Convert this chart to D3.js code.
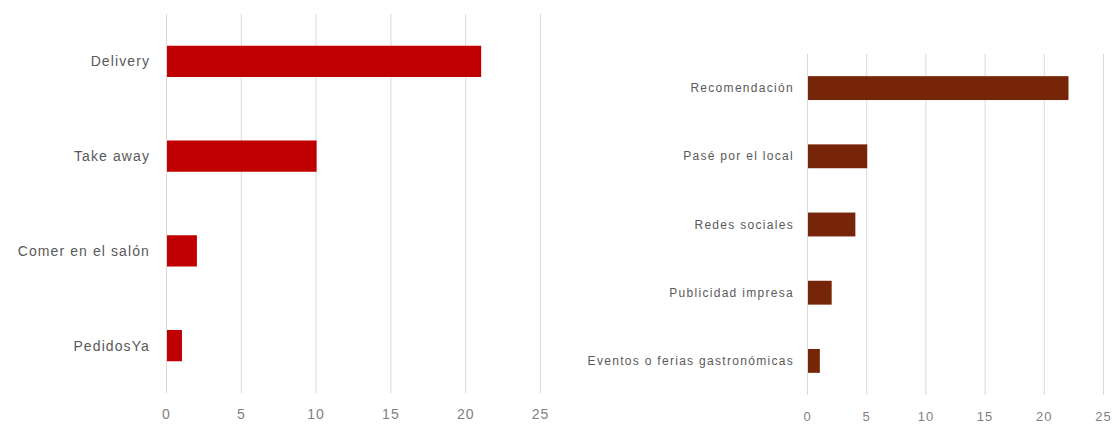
<!DOCTYPE html>
<html>
<head>
<meta charset="utf-8">
<script src="https://cdn.jsdelivr.net/npm/d3@7"></script>
<style>
  html, body { margin: 0; padding: 0; background: #ffffff; }
  svg { display: block; font-family: "Liberation Sans", Arial, sans-serif; }
  .cat text { fill: #595959; }
  .tick text { fill: #7f7f7f; }
</style>
</head>
<body>
<svg id="chart" width="1112" height="425"></svg>
<script>
// Left panel: how customers order
const orderCategories = ["Delivery", "Take away", "Comer en el salón", "PedidosYa"];
const orderValues = [21, 10, 2, 1];

// Right panel: how customers found the place
const sourceCategories = [
  "Recomendación",
  "Pasé por el local",
  "Redes sociales",
  "Publicidad impresa",
  "Eventos o ferias gastronómicas"
];
const sourceValues = [22, 5, 4, 2, 1];

const xTicks = [0, 5, 10, 15, 20, 25];

const svg = d3.select("#chart");

function drawPanel(opts) {
  const { categories, values, x0, x1, y0, y1, color, padInner, labelGap,
          labelSize, labelSpacing, tickSize, tickY } = opts;

  const x = d3.scaleLinear().domain([0, 25]).range([x0, x1]);
  const y = d3.scaleBand()
    .domain(categories)
    .range([y0, y1])
    .paddingInner(padInner)
    .paddingOuter(padInner / 2);

  const g = svg.append("g");

  // vertical gridlines
  g.append("g")
    .selectAll("line")
    .data(xTicks)
    .join("line")
    .attr("x1", d => x(d) + 0.5)
    .attr("x2", d => x(d) + 0.5)
    .attr("y1", y0)
    .attr("y2", y1)
    .attr("stroke", "#d9d9d9")
    .attr("stroke-width", 1);

  // bars
  g.append("g")
    .selectAll("rect")
    .data(values)
    .join("rect")
    .attr("x", x(0) + 1)
    .attr("y", (d, i) => y(categories[i]))
    .attr("width", d => x(d) - x(0))
    .attr("height", y.bandwidth())
    .attr("fill", color);

  // category labels
  g.append("g")
    .attr("class", "cat")
    .selectAll("text")
    .data(categories)
    .join("text")
    .attr("x", x(0) - labelGap)
    .attr("y", d => y(d) + y.bandwidth() / 2)
    .attr("text-anchor", "end")
    .attr("dominant-baseline", "central")
    .style("font-size", labelSize + "px")
    .style("letter-spacing", labelSpacing + "px")
    .text(d => d);

  // value axis labels
  const axis = d3.axisBottom(x).tickValues(xTicks).tickSize(0).tickPadding(0);
  const ag = g.append("g")
    .attr("transform", `translate(0,${tickY})`)
    .call(axis);
  ag.select(".domain").remove();
  ag.selectAll(".tick text")
    .attr("dy", "0.35em")
    .attr("y", 0)
    .style("font-size", tickSize + "px")
    .style("letter-spacing", "1px")
    .style("font-family", "'Liberation Sans', Arial, sans-serif");
}

drawPanel({
  categories: orderCategories,
  values: orderValues,
  x0: 166, x1: 540, y0: 14, y1: 393,
  color: "#c00000",
  padInner: 0.67,
  labelGap: 16,
  labelSize: 14,
  labelSpacing: 1.1,
  tickSize: 14,
  tickY: 414
});

drawPanel({
  categories: sourceCategories,
  values: sourceValues,
  x0: 807, x1: 1103, y0: 54, y1: 395,
  color: "#772509",
  padInner: 0.65,
  labelGap: 13,
  labelSize: 12,
  labelSpacing: 1.3,
  tickSize: 13,
  tickY: 416
});
</script>
</body>
</html>
